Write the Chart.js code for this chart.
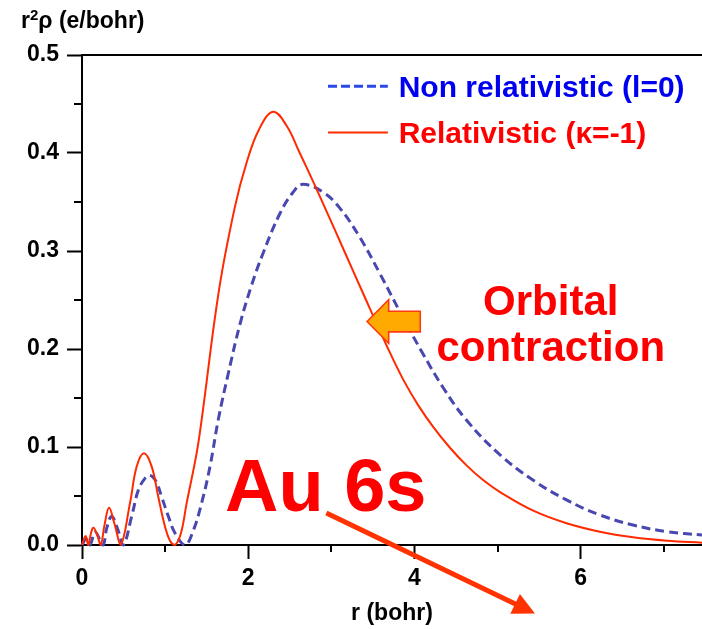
<!DOCTYPE html>
<html><head><meta charset="utf-8">
<script src="https://cdn.jsdelivr.net/npm/chart.js@4/dist/chart.umd.min.js"></script>
<style>html,body{margin:0;padding:0;background:#fff;overflow:hidden}canvas{display:block}</style>
</head><body>
<canvas id="c" width="702" height="629"></canvas>
<script>
// ---- data ----
const rRel = [0, 0.02, 0.045, 0.076, 0.105, 0.136, 0.18, 0.225, 0.27, 0.325, 0.39, 0.466, 0.578, 0.658, 0.746, 0.839, 0.918, 0.999, 1.06, 1.12, 1.19, 1.26, 1.38, 1.44, 1.65, 1.84, 1.98, 2.13, 2.30, 2.46, 2.62, 2.78, 2.94, 3.15, 3.36, 3.69, 3.87, 4.05, 4.23, 4.43, 4.63, 4.83, 5.03, 5.43, 5.83, 6.23, 6.63, 7.04, 7.46];
const vRel = [0, 0.005, 0.009, 0, 0.011, 0.0177, 0.011, 0, 0.02, 0.038, 0.022, 0, 0.043, 0.080, 0.0937, 0.080, 0.049, 0.0187, 0.004, 0, 0.012, 0.043, 0.094, 0.128, 0.261, 0.345, 0.390, 0.424, 0.442, 0.428, 0.400, 0.371, 0.341, 0.301, 0.261, 0.199, 0.168, 0.142, 0.120, 0.099, 0.081, 0.066, 0.054, 0.035, 0.0222, 0.0136, 0.0079, 0.0044, 0.0024];
const rNon = [0, 0.05, 0.095, 0.16, 0.25, 0.30, 0.357, 0.43, 0.497, 0.597, 0.678, 0.758, 0.818, 0.89, 0.959, 1.04, 1.12, 1.24, 1.34, 1.44, 1.54, 1.64, 1.76, 1.90, 2.04, 2.18, 2.38, 2.54, 2.66, 2.90, 3.10, 3.35, 3.59, 3.85, 4.09, 4.35, 4.63, 5.03, 5.43, 5.83, 6.23, 6.63, 7.04, 7.46];
const vNon = [0, 0.006, 0, 0.013, 0, 0.018, 0.029, 0.016, 0, 0.029, 0.056, 0.068, 0.071, 0.065, 0.049, 0.029, 0.012, 0, 0.015, 0.043, 0.080, 0.128, 0.175, 0.225, 0.265, 0.298, 0.338, 0.360, 0.368, 0.360, 0.344, 0.313, 0.276, 0.234, 0.197, 0.160, 0.127, 0.092, 0.066, 0.046, 0.0307, 0.0204, 0.0136, 0.0102];
const xMajorTicks = [0, 2, 4, 6];
const xMinorTicks = [1, 3, 5, 7];
const yMajorTicks = [0, 0.1, 0.2, 0.3, 0.4, 0.5];
const yMinorTicks = [0.05, 0.15, 0.25, 0.35, 0.45];
const seriesLabels = ['Non relativistic (l=0)', 'Relativistic (\u03BA=-1)'];
const yAxisTitle = ['r', '2', '\u03C1 (e/bohr)'];
const xAxisTitle = 'r (bohr)';
const mainNote = 'Au 6s';
const arrowNote = ['Orbital', 'contraction'];

const FF = '"Liberation Sans", Arial, Helvetica, sans-serif';

const deco = {
  id: 'deco',
  afterDraw(chart) {
    const {ctx, chartArea: a, scales: {x, y}} = chart;
    const X = v => x.getPixelForValue(v), Y = v => y.getPixelForValue(v);
    ctx.save();
    // top frame line
    ctx.strokeStyle = '#000'; ctx.lineWidth = 2;
    ctx.beginPath(); ctx.moveTo(a.left - 1, a.top); ctx.lineTo(a.right, a.top); ctx.stroke();
    // minor ticks
    yMinorTicks.forEach(v => { const p = Math.round(Y(v)); ctx.beginPath(); ctx.moveTo(a.left - 8, p); ctx.lineTo(a.left, p); ctx.stroke(); });
    xMinorTicks.forEach(v => { const p = Math.round(X(v)); ctx.beginPath(); ctx.moveTo(p, a.bottom); ctx.lineTo(p, a.bottom + 7); ctx.stroke(); });
    // y axis title with superscript
    ctx.fillStyle = '#000'; ctx.textAlign = 'left'; ctx.textBaseline = 'alphabetic';
    let tx0 = 21;
    ctx.font = 'bold 23px ' + FF; ctx.fillText(yAxisTitle[0], tx0, 28); tx0 += ctx.measureText(yAxisTitle[0]).width;
    ctx.font = 'bold 15px ' + FF; ctx.fillText(yAxisTitle[1], tx0, 20); tx0 += ctx.measureText(yAxisTitle[1]).width;
    ctx.font = 'bold 23px ' + FF; ctx.fillText(yAxisTitle[2], tx0, 28);
    // legend
    const ds = chart.data.datasets;
    const lx0 = X(2.96), lx1 = X(3.68), tx = X(3.81);
    const legendRows = [{d: ds[1], v: 0.468, col: '#0000f0', line: '#2a48e8'}, {d: ds[0], v: 0.421, col: '#ff0000', line: ds[0].borderColor}];
    legendRows.forEach(row => {
      const py = Y(row.v);
      ctx.strokeStyle = row.line; ctx.lineWidth = row.d.borderWidth;
      ctx.setLineDash(row.d.borderDash ? [9, 4] : []);
      ctx.beginPath(); ctx.moveTo(lx0, py); ctx.lineTo(lx1, py); ctx.stroke();
      ctx.setLineDash([]);
      ctx.fillStyle = row.col; ctx.font = 'bold 30px ' + FF;
      ctx.fillText(row.d.label, tx, py + 11);
    });
    // orange arrow (pointing left)
    const tipX = X(3.43), tipY = Y(0.228), headX = X(3.69), tailX = X(4.07);
    const hh = Y(0) - Y(0.0222), sh = Y(0) - Y(0.0105);
    ctx.beginPath();
    ctx.moveTo(tipX, tipY);
    ctx.lineTo(headX, tipY - hh);
    ctx.lineTo(headX, tipY - sh);
    ctx.lineTo(tailX, tipY - sh);
    ctx.lineTo(tailX, tipY + sh);
    ctx.lineTo(headX, tipY + sh);
    ctx.lineTo(headX, tipY + hh);
    ctx.closePath();
    ctx.fillStyle = '#ffaa00'; ctx.fill();
    ctx.strokeStyle = '#ff3a10'; ctx.lineWidth = 1.6; ctx.lineJoin = 'miter'; ctx.stroke();
    // texts
    ctx.fillStyle = '#ff0000';
    ctx.font = 'bold 74px ' + FF; ctx.textAlign = 'left';
    ctx.fillText(mainNote, X(1.72), Y(0.035));
    ctx.font = 'bold 42px ' + FF; ctx.textAlign = 'center';
    ctx.fillText(arrowNote[0], X(5.64), Y(0.235));
    ctx.fillText(arrowNote[1], X(5.64), Y(0.1874));
    // red arrow
    const sx = X(2.94), sy = Y(0.0327), ex = X(5.45), ey = Y(-0.0698);
    const ang = Math.atan2(ey - sy, ex - sx), hl = 22, hw = 11;
    const bx = ex - hl * Math.cos(ang), by = ey - hl * Math.sin(ang);
    ctx.strokeStyle = '#ff3300'; ctx.lineWidth = 5; ctx.lineCap = 'butt';
    ctx.beginPath(); ctx.moveTo(sx, sy); ctx.lineTo(bx + 2 * Math.cos(ang), by + 2 * Math.sin(ang)); ctx.stroke();
    ctx.fillStyle = '#ff3300';
    ctx.beginPath(); ctx.moveTo(ex, ey);
    ctx.lineTo(bx + hw * Math.sin(ang), by - hw * Math.cos(ang));
    ctx.lineTo(bx - hw * Math.sin(ang), by + hw * Math.cos(ang));
    ctx.closePath(); ctx.fill();
    ctx.restore();
  }
};

new Chart(document.getElementById('c'), {
  type: 'line',
  data: {
    datasets: [
      {label: seriesLabels[1], data: rRel.map((r, i) => ({x: r, y: vRel[i]})), borderColor: '#ff2a00', borderWidth: 2, pointRadius: 0, tension: 0.4, fill: false, clip: false},
      {label: seriesLabels[0], data: rNon.map((r, i) => ({x: r, y: vNon[i]})), borderColor: '#4848b0', borderWidth: 3, borderDash: [9, 5], pointRadius: 0, tension: 0.4, fill: false, clip: false}
    ]
  },
  options: {
    responsive: false, animation: false, devicePixelRatio: 1,
    layout: {padding: {top: 55, right: 0, left: 0, bottom: 0}},
    plugins: {legend: {display: false}, tooltip: {enabled: false}},
    scales: {
      x: {
        type: 'linear', min: 0, max: 7.46,
        afterBuildTicks: s => { s.ticks = xMajorTicks.map(v => ({value: v})); },
        afterFit: s => { s.height = 84; },
        ticks: {callback: v => String(v), font: {family: FF, size: 23, weight: 'bold'}, color: '#000', padding: 6, maxRotation: 0, autoSkip: false},
        grid: {display: true, drawOnChartArea: false, drawTicks: true, tickLength: 14, tickWidth: 2, tickColor: '#000'},
        border: {display: true, color: '#000', width: 2},
        title: {display: true, text: xAxisTitle, color: '#000', font: {family: FF, size: 23, weight: 'bold'}, padding: {top: 0, bottom: 2}}
      },
      y: {
        type: 'linear', min: 0, max: 0.5,
        afterBuildTicks: s => { s.ticks = yMajorTicks.map(v => ({value: v})); },
        afterFit: s => { s.width = 82; },
        ticks: {callback: v => v.toFixed(1), font: {family: FF, size: 23, weight: 'bold'}, color: '#000', padding: 8},
        grid: {display: true, drawOnChartArea: false, drawTicks: true, tickLength: 15, tickWidth: 2, tickColor: '#000'},
        border: {display: true, color: '#000', width: 2}
      }
    }
  },
  plugins: [deco]
});
</script>
</body></html>
